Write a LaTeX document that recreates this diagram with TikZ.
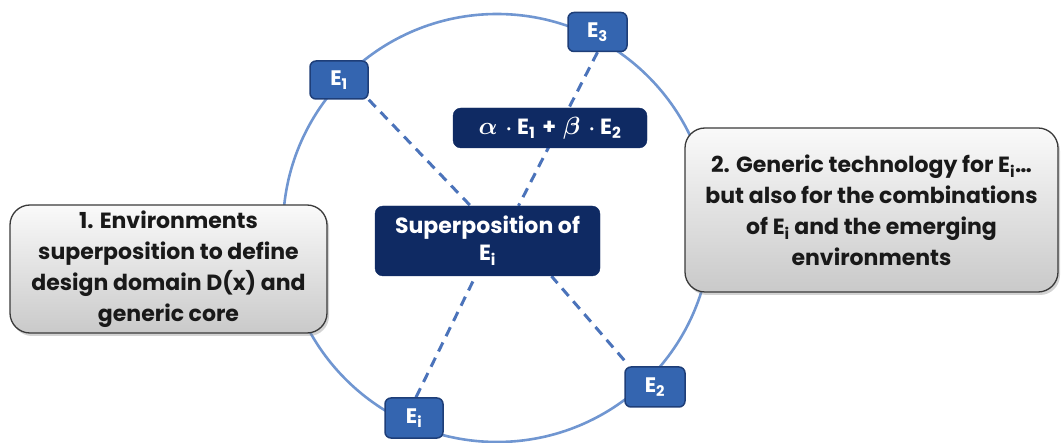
\documentclass[tikz,border=0pt]{standalone}
\usepackage{bm}
\usepackage{fontspec}
\setmainfont{Poppins}
\usetikzlibrary{shadows,calc}
\definecolor{ebox}{HTML}{3465B0}
\definecolor{eborder}{HTML}{1E3E78}
\definecolor{navy}{HTML}{0F2A63}
\definecolor{ring}{HTML}{7096D1}
\definecolor{dash}{HTML}{4B73BA}
\definecolor{gborder}{HTML}{3A3A3A}
\pgfdeclarelayer{background}
\pgfsetlayers{background,main}
\newcommand{\greek}[1]{{\fontsize{26}{26}\selectfont$\bm{#1}$}}
\tikzset{
  envbox/.style={draw=eborder, line width=1.5pt, fill=ebox, rounded corners=6pt,
    text=white, font=\bfseries\fontsize{21}{24}\selectfont, inner sep=0pt},
  darkbox/.style={draw=navy, fill=navy, rounded corners=8pt, text=white,
    font=\bfseries\fontsize{22}{27}\selectfont, align=center, inner sep=0pt},
  graybox/.style={draw=gborder, line width=1.3pt, rounded corners=20pt,
    top color=gray!4, bottom color=gray!42, align=center, inner sep=0pt,
    font=\bfseries\fontsize{22}{31}\selectfont, text=black!90,
    drop shadow={opacity=0.35, shadow xshift=2pt, shadow yshift=-3pt}},
  ringline/.style={draw=ring, line width=2.6pt},
  dashline/.style={draw=dash, line width=3pt, dash pattern=on 10pt off 7pt},
}
\begin{document}
\begin{tikzpicture}[x=1pt,y=-1pt]
\useasboundingbox (0,0) rectangle (1063,443);
% nodes
\node[graybox, minimum width=317pt, minimum height=128pt] (left) at (168.5,269)
  {1. Environments\\superposition to define\\design domain D(x) and\\generic core};
\node[graybox, minimum width=373pt, minimum height=164pt] (right) at (871.5,210)
  {2. Generic technology for E\textsubscript{i}\dots\\but also for the combinations\\of E\textsubscript{i} and the emerging\\environments};
\node[darkbox, minimum width=225pt, minimum height=70pt] (sup) at (487.5,241)
  {Superposition of\\E\textsubscript{i}};
\node[darkbox, minimum width=194pt, minimum height=40pt] (form) at (550,128)
  {\greek{\alpha}\hspace{8pt}$\bm\cdot$\hspace{5pt}E\textsubscript{1}\hspace{7pt}+\hspace{7pt}\greek{\beta}\hspace{8pt}$\bm\cdot$\hspace{5pt}E\textsubscript{2}};
\node[envbox, minimum width=58pt, minimum height=38pt] (E1) at (339,80) {E\textsubscript{1}};
\node[envbox, minimum width=59pt, minimum height=39pt] (E3) at (597.5,32) {E\textsubscript{3}};
\node[envbox, minimum width=60pt, minimum height=40pt] (E2) at (655,387) {E\textsubscript{2}};
\node[envbox, minimum width=58pt, minimum height=40pt] (Ei) at (414,418) {E\textsubscript{i}};
\coordinate (c) at (497,228);
\begin{pgfonlayer}{background}
  \draw[ringline] (c) circle[radius=214pt];
  \draw[dashline] (E1.south east) -- ($(sup.north)+(-17,0)$);
  \draw[dashline] (E3.south) -- ($(sup.north)+(31,0)$);
  \draw[dashline] ($(Ei.north)+(2,0)$) -- ($(sup.south)+(-12,0)$);
  \draw[dashline] ($(E2.north west)+(0,-6)$) -- ($(sup.south)+(64,0)$);
\end{pgfonlayer}
\end{tikzpicture}
\end{document}
